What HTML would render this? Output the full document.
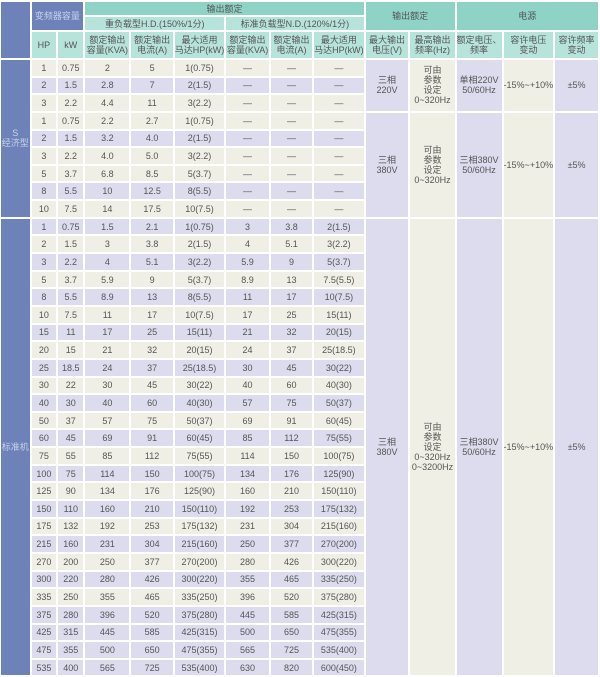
<!DOCTYPE html>
<html><head><meta charset="utf-8"><style>
body{margin:0;background:#fff;width:600px;height:677px;overflow:hidden}
table{border-collapse:separate;border-spacing:2px;margin:0 0 0 -1px;table-layout:fixed;font-family:"Liberation Sans","Noto Sans CJK SC",sans-serif;font-size:9px;color:#555}
td{padding:0;text-align:center;vertical-align:middle;line-height:10px;overflow:hidden;white-space:nowrap}
.b{background:#6d82b8;color:#c8d2ea}
.h{background:#8fd3c7;height:13px}
.s{background:#b6e4db;height:26px}
.h2{background:#b6e4db;height:13px}
tr.d td{height:15.65px}
tr.c td{background:#efefe6}
tr.l td{background:#dcdcee}
td.L{background:#dcdcee!important;white-space:normal}
td.C{background:#efefe6!important;white-space:normal}
td.B{background:#6d82b8!important;color:#c8d2ea}
</style></head><body>
<table>
<colgroup><col style="width:29px"><col style="width:26px"><col style="width:26px"><col style="width:45px"><col style="width:43px"><col style="width:45px"><col style="width:43px"><col style="width:43px"><col style="width:45px"><col style="width:45px"><col style="width:45px"><col style="width:44px"><col style="width:45px"><col style="width:45px"></colgroup>
<tr><td class="b" rowspan="3"></td><td class="b" colspan="2" rowspan="2">变频器容量</td><td class="h" colspan="6">输出额定</td><td class="h" colspan="2" rowspan="2">输出额定</td><td class="h" colspan="3" rowspan="2">电源</td></tr>
<tr><td class="h2" colspan="3">重负载型H.D.(150%/1分)</td><td class="h2" colspan="3">标准负载型N.D.(120%/1分)</td></tr>
<tr><td class="s">HP</td><td class="s">kW</td><td class="s">额定输出<br>容量(KVA)</td><td class="s">额定输出<br>电流(A)</td><td class="s">最大适用<br>马达HP(kW)</td><td class="s">额定输出<br>容量(KVA)</td><td class="s">额定输出<br>电流(A)</td><td class="s">最大适用<br>马达HP(kW)</td><td class="s">最大输出<br>电压(V)</td><td class="s">最高输出<br>频率(Hz)</td><td class="s">额定电压、<br>频率</td><td class="s">容许电压<br>变动</td><td class="s">容许频率<br>变动</td></tr>
<tr class="d c"><td class="B" rowspan="9">S<br>经济型</td><td>1</td><td>0.75</td><td>2</td><td>5</td><td>1(0.75)</td><td>—</td><td>—</td><td>—</td><td class="L" rowspan="3">三相<br>220V</td><td class="C" rowspan="3">可由<br>参数<br>设定<br>0~320Hz</td><td class="L" rowspan="3">单相220V<br>50/60Hz</td><td class="C" rowspan="3">-15%~+10%</td><td class="L" rowspan="3">±5%</td></tr>
<tr class="d l"><td>2</td><td>1.5</td><td>2.8</td><td>7</td><td>2(1.5)</td><td>—</td><td>—</td><td>—</td></tr>
<tr class="d c"><td>3</td><td>2.2</td><td>4.4</td><td>11</td><td>3(2.2)</td><td>—</td><td>—</td><td>—</td></tr>
<tr class="d c"><td>1</td><td>0.75</td><td>2.2</td><td>2.7</td><td>1(0.75)</td><td>—</td><td>—</td><td>—</td><td class="L" rowspan="6">三相<br>380V</td><td class="C" rowspan="6">可由<br>参数<br>设定<br>0~320Hz</td><td class="L" rowspan="6">三相380V<br>50/60Hz</td><td class="C" rowspan="6">-15%~+10%</td><td class="L" rowspan="6">±5%</td></tr>
<tr class="d l"><td>2</td><td>1.5</td><td>3.2</td><td>4.0</td><td>2(1.5)</td><td>—</td><td>—</td><td>—</td></tr>
<tr class="d c"><td>3</td><td>2.2</td><td>4.0</td><td>5.0</td><td>3(2.2)</td><td>—</td><td>—</td><td>—</td></tr>
<tr class="d c"><td>5</td><td>3.7</td><td>6.8</td><td>8.5</td><td>5(3.7)</td><td>—</td><td>—</td><td>—</td></tr>
<tr class="d l"><td>8</td><td>5.5</td><td>10</td><td>12.5</td><td>8(5.5)</td><td>—</td><td>—</td><td>—</td></tr>
<tr class="d c"><td>10</td><td>7.5</td><td>14</td><td>17.5</td><td>10(7.5)</td><td>—</td><td>—</td><td>—</td></tr>
<tr class="d l"><td class="B" rowspan="26">标准机</td><td>1</td><td>0.75</td><td>1.5</td><td>2.1</td><td>1(0.75)</td><td>3</td><td>3.8</td><td>2(1.5)</td><td class="L" rowspan="26">三相<br>380V</td><td class="C" rowspan="26">可由<br>参数<br>设定<br>0~320Hz<br>0~3200Hz</td><td class="L" rowspan="26">三相380V<br>50/60Hz</td><td class="C" rowspan="26">-15%~+10%</td><td class="L" rowspan="26">±5%</td></tr>
<tr class="d c"><td>2</td><td>1.5</td><td>3</td><td>3.8</td><td>2(1.5)</td><td>4</td><td>5.1</td><td>3(2.2)</td></tr>
<tr class="d l"><td>3</td><td>2.2</td><td>4</td><td>5.1</td><td>3(2.2)</td><td>5.9</td><td>9</td><td>5(3.7)</td></tr>
<tr class="d c"><td>5</td><td>3.7</td><td>5.9</td><td>9</td><td>5(3.7)</td><td>8.9</td><td>13</td><td>7.5(5.5)</td></tr>
<tr class="d l"><td>8</td><td>5.5</td><td>8.9</td><td>13</td><td>8(5.5)</td><td>11</td><td>17</td><td>10(7.5)</td></tr>
<tr class="d c"><td>10</td><td>7.5</td><td>11</td><td>17</td><td>10(7.5)</td><td>17</td><td>25</td><td>15(11)</td></tr>
<tr class="d l"><td>15</td><td>11</td><td>17</td><td>25</td><td>15(11)</td><td>21</td><td>32</td><td>20(15)</td></tr>
<tr class="d c"><td>20</td><td>15</td><td>21</td><td>32</td><td>20(15)</td><td>24</td><td>37</td><td>25(18.5)</td></tr>
<tr class="d l"><td>25</td><td>18.5</td><td>24</td><td>37</td><td>25(18.5)</td><td>30</td><td>45</td><td>30(22)</td></tr>
<tr class="d c"><td>30</td><td>22</td><td>30</td><td>45</td><td>30(22)</td><td>40</td><td>60</td><td>40(30)</td></tr>
<tr class="d l"><td>40</td><td>30</td><td>40</td><td>60</td><td>40(30)</td><td>57</td><td>75</td><td>50(37)</td></tr>
<tr class="d c"><td>50</td><td>37</td><td>57</td><td>75</td><td>50(37)</td><td>69</td><td>91</td><td>60(45)</td></tr>
<tr class="d l"><td>60</td><td>45</td><td>69</td><td>91</td><td>60(45)</td><td>85</td><td>112</td><td>75(55)</td></tr>
<tr class="d c"><td>75</td><td>55</td><td>85</td><td>112</td><td>75(55)</td><td>114</td><td>150</td><td>100(75)</td></tr>
<tr class="d l"><td>100</td><td>75</td><td>114</td><td>150</td><td>100(75)</td><td>134</td><td>176</td><td>125(90)</td></tr>
<tr class="d c"><td>125</td><td>90</td><td>134</td><td>176</td><td>125(90)</td><td>160</td><td>210</td><td>150(110)</td></tr>
<tr class="d l"><td>150</td><td>110</td><td>160</td><td>210</td><td>150(110)</td><td>192</td><td>253</td><td>175(132)</td></tr>
<tr class="d c"><td>175</td><td>132</td><td>192</td><td>253</td><td>175(132)</td><td>231</td><td>304</td><td>215(160)</td></tr>
<tr class="d l"><td>215</td><td>160</td><td>231</td><td>304</td><td>215(160)</td><td>250</td><td>377</td><td>270(200)</td></tr>
<tr class="d c"><td>270</td><td>200</td><td>250</td><td>377</td><td>270(200)</td><td>280</td><td>426</td><td>300(220)</td></tr>
<tr class="d l"><td>300</td><td>220</td><td>280</td><td>426</td><td>300(220)</td><td>355</td><td>465</td><td>335(250)</td></tr>
<tr class="d c"><td>335</td><td>250</td><td>355</td><td>465</td><td>335(250)</td><td>396</td><td>520</td><td>375(280)</td></tr>
<tr class="d l"><td>375</td><td>280</td><td>396</td><td>520</td><td>375(280)</td><td>445</td><td>585</td><td>425(315)</td></tr>
<tr class="d l"><td>425</td><td>315</td><td>445</td><td>585</td><td>425(315)</td><td>500</td><td>650</td><td>475(355)</td></tr>
<tr class="d l"><td>475</td><td>355</td><td>500</td><td>650</td><td>475(355)</td><td>565</td><td>725</td><td>535(400)</td></tr>
<tr class="d l"><td>535</td><td>400</td><td>565</td><td>725</td><td>535(400)</td><td>630</td><td>820</td><td>600(450)</td></tr>
</table>
</body></html>
